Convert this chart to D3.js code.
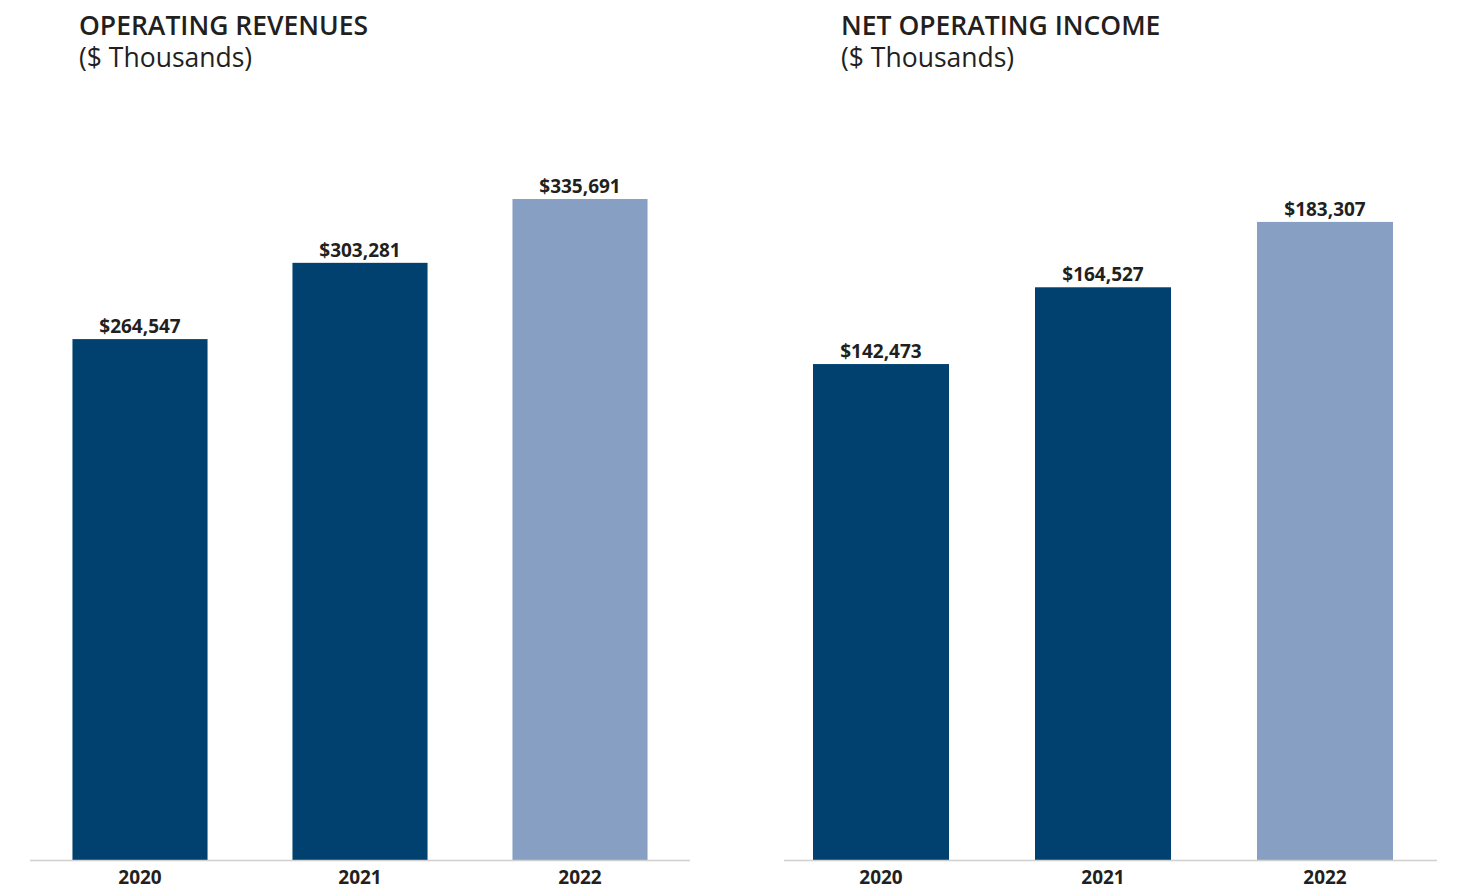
<!DOCTYPE html>
<html><head><meta charset="utf-8">
<script src="https://cdn.jsdelivr.net/npm/d3@7"></script>
<style>
html,body{margin:0;padding:0;background:#fff;}
svg{display:block;}
text{font-family:"Open Sans","Noto Sans",sans-serif;fill:#231f20;}
</style></head>
<body>
<svg id="chart" width="1460" height="887"></svg>
<script>
const years = ["2020", "2021", "2022"];
const revenues = [264547, 303281, 335691];
const netIncome = [142473, 164527, 183307];
const titles = ["OPERATING REVENUES", "NET OPERATING INCOME"];
const subtitle = "($ Thousands)";
const barColors = ["#01416f", "#01416f", "#889fc4"];

const svg = d3.select("#chart");
const fmt = v => "$" + d3.format(",")(v);

const panels = [
  {values: revenues, title: titles[0], titleX: 79, range: [30, 690], pI: 0.386, pO: 0.193, axis: [30, 690], yMax: 400000, yTop: 72.4},
  {values: netIncome, title: titles[1], titleX: 841, range: [776.5, 1429.5], pI: 0.3874, pO: 0.1644, axis: [784, 1437], yMax: 200000, yTop: 163.8}
];
const baseY = 860;

panels.forEach(p => {
  const g = svg.append("g");
  const x = d3.scaleBand().domain(years).range(p.range).paddingInner(p.pI).paddingOuter(p.pO);
  const y = d3.scaleLinear().domain([0, p.yMax]).range([baseY, p.yTop]);

  g.append("text").attr("x", p.titleX).attr("y", 35)
    .style("font-size", "26.5px").style("font-weight", 600).text(p.title);
  g.append("text").attr("x", p.titleX).attr("y", 67)
    .style("font-size", "26.5px").style("font-weight", 400).text(subtitle);

  const data = years.map((yr, i) => ({yr, v: p.values[i], c: barColors[i]}));
  g.selectAll("rect.bar").data(data).join("rect").attr("class", "bar")
    .attr("x", d => x(d.yr)).attr("width", x.bandwidth())
    .attr("y", d => y(d.v)).attr("height", d => baseY - y(d.v))
    .attr("fill", d => d.c);

  g.selectAll("text.val").data(data).join("text").attr("class", "val")
    .attr("x", d => x(d.yr) + x.bandwidth() / 2).attr("y", d => y(d.v) - 6)
    .attr("text-anchor", "middle").style("font-size", "19px").style("font-weight", 700)
    .text(d => fmt(d.v));

  const axis = d3.axisBottom(x).tickSize(0).tickPadding(0);
  const ag = g.append("g").attr("transform", `translate(0,${baseY})`).call(axis);
  ag.select(".domain").remove();
  ag.selectAll("text").attr("dy", null).attr("y", 24)
    .style("font-size", "19px").style("font-weight", 700)
    .style("font-family", "'Open Sans','Noto Sans',sans-serif").attr("fill", "#231f20");
  g.append("line").attr("x1", p.axis[0]).attr("x2", p.axis[1])
    .attr("y1", baseY + 0.5).attr("y2", baseY + 0.5)
    .attr("stroke", "#d0d0d0").attr("stroke-width", 1.5);
});
</script>
</body></html>
